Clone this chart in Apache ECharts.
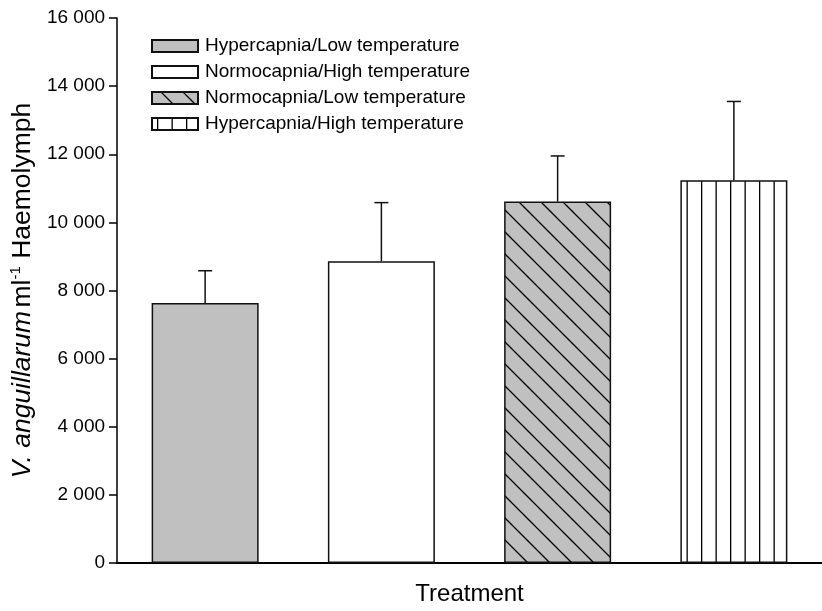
<!DOCTYPE html>
<html>
<head>
<meta charset="utf-8">
<script src="https://cdn.jsdelivr.net/npm/echarts@6/dist/echarts.min.js"></script>
<style>
  html, body { margin: 0; padding: 0; background: #fff; overflow: hidden; }
  #chart { width: 822px; height: 611px; }
</style>
</head>
<body>
<div id="chart"></div>
<script>
// Vibrio counts per ml of haemolymph, mean and upper error (mean + SE)
const categories = ['Hypercapnia/Low temperature', 'Normocapnia/High temperature',
                    'Normocapnia/Low temperature', 'Hypercapnia/High temperature'];
const means = [7630, 8860, 10610, 11240];
const upper = [8580, 10580, 11950, 13550];
const yTicks = [0, 2000, 4000, 6000, 8000, 10000, 12000, 14000, 16000];

const FONT = '"Liberation Sans", Arial, Helvetica, sans-serif';

// Diagonal hatching ("\") over grey
function diagonalPattern() {
  const s = 22;
  const c = document.createElement('canvas');
  c.width = s; c.height = s;
  const g = c.getContext('2d');
  g.fillStyle = '#c0c0c0';
  g.fillRect(0, 0, s, s);
  g.strokeStyle = '#000';
  g.lineWidth = 1.3;
  const off = 9;
  g.beginPath();
  for (const k of [-s, 0, s]) {
    g.moveTo(off + k - 2, -2);
    g.lineTo(off + k + s + 2, s + 2);
  }
  g.stroke();
  return c;
}

// Vertical stripes over white
function verticalPattern() {
  const c = document.createElement('canvas');
  c.width = 29; c.height = 4;
  const g = c.getContext('2d');
  g.fillStyle = '#fff';
  g.fillRect(0, 0, 29, 4);
  g.fillStyle = '#000';
  g.fillRect(5, 0, 1.3, 4);
  g.fillRect(19.5, 0, 1.3, 4);
  return c;
}

const fills = [
  '#c0c0c0',
  '#ffffff',
  { image: diagonalPattern(), repeat: 'repeat' },
  { image: verticalPattern(), repeat: 'repeat' }
];

function fmt(v) {
  return String(v).replace(/\B(?=(\d{3})+(?!\d))/g, ' ');
}

const barSeries = categories.map((name, i) => ({
  name: name,
  type: 'bar',
  barWidth: 107,
  barGap: '-100%',
  data: categories.map((_, j) => (j === i ? means[i] : '-')),
  itemStyle: { color: fills[i], borderColor: '#111', borderWidth: 1.5 },
  emphasis: { disabled: true },
  z: 2
}));

const errorSeries = {
  type: 'custom',
  name: 'error',
  data: means.map((m, i) => [i, m, upper[i]]),
  z: 3,
  silent: true,
  renderItem: function (params, api) {
    const base = api.coord([api.value(0), api.value(1)]);
    const top = api.coord([api.value(0), api.value(2)]);
    const half = 7;
    const st = { stroke: '#111', lineWidth: 1.5 };
    return {
      type: 'group',
      children: [
        { type: 'line', shape: { x1: base[0], y1: base[1], x2: top[0], y2: top[1] }, style: st },
        { type: 'line', shape: { x1: top[0] - half, y1: top[1], x2: top[0] + half, y2: top[1] }, style: st }
      ]
    };
  }
};

const chart = echarts.init(document.getElementById('chart'), null,
  { renderer: 'canvas', width: 822, height: 611 });
chart.setOption({
  animation: false,
  backgroundColor: '#fff',
  textStyle: { fontFamily: FONT },
  grid: { left: 117, top: 18, width: 715, height: 549, containLabel: false },
  legend: {
    orient: 'vertical',
    left: 146,
    top: 31,
    itemWidth: 46,
    itemHeight: 12,
    itemGap: 6,
    icon: 'rect',
    data: categories,
    selectedMode: false,
    textStyle: { fontFamily: FONT, fontSize: 19, lineHeight: 20, color: '#000', padding: [0, 0, 0, 2] }
  },
  xAxis: {
    type: 'category',
    data: categories,
    name: 'Treatment',
    nameLocation: 'middle',
    nameGap: 19,
    nameTextStyle: { fontFamily: FONT, fontSize: 24, color: '#000' },
    axisLine: { lineStyle: { color: '#000', width: 2 } },
    axisTick: { show: false },
    axisLabel: { show: false }
  },
  yAxis: {
    type: 'value',
    min: yTicks[0],
    max: yTicks[yTicks.length - 1],
    interval: 2000,
    name: '{i|V. anguillarum} {n|ml}{s|-1}{n| Haemolymph}',
    nameLocation: 'middle',
    nameGap: 73,
    nameTextStyle: {
      rich: {
        i: { fontFamily: FONT, fontSize: 26.5, fontStyle: 'italic', color: '#000', lineHeight: 29 },
        n: { fontFamily: FONT, fontSize: 26.5, color: '#000', lineHeight: 29 },
        s: { fontFamily: FONT, fontSize: 15, color: '#000', lineHeight: 29, verticalAlign: 'top', padding: [0, 0, 12, 0] }
      }
    },
    splitLine: { show: false },
    axisLine: { show: true, lineStyle: { color: '#000', width: 1.5 } },
    axisTick: { show: true, length: 8, lineStyle: { color: '#000', width: 1.5 } },
    axisLabel: {
      margin: 12,
      fontFamily: FONT,
      fontSize: 19,
      color: '#000',
      formatter: v => fmt(v)
    }
  },
  series: barSeries.concat([errorSeries])
});
</script>
</body>
</html>
